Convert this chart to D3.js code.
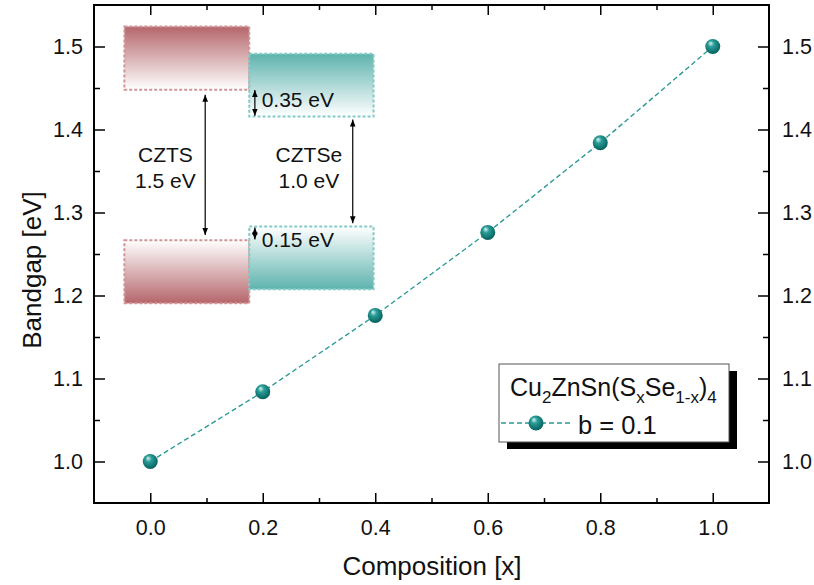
<!DOCTYPE html>
<html><head><meta charset="utf-8">
<script src="https://cdn.jsdelivr.net/npm/d3@7"></script>
<style>
html,body{margin:0;padding:0;background:#fff;}
text{font-family:Arial,"Liberation Sans",sans-serif;fill:#111;}
</style></head>
<body><svg id="c" width="814" height="585"></svg>
<script>
// ---- data ----
const composition = [0.0, 0.2, 0.4, 0.6, 0.8, 1.0];
const bandgap = [1.0, 1.084, 1.176, 1.276, 1.384, 1.5];
const xTicks = [0.0, 0.2, 0.4, 0.6, 0.8, 1.0];
const xMinor = [0.1, 0.3, 0.5, 0.7, 0.9];
const yTicks = [1.0, 1.1, 1.2, 1.3, 1.4, 1.5];
const yMinor = [1.05, 1.15, 1.25, 1.35, 1.45];
const seriesName = "b = 0.1";

const svg = d3.select("#c");
const L = 94, R = 769, T = 5, B = 503;
const x = d3.scaleLinear().domain([-0.1, 1.1]).range([L, R]);
const y = d3.scaleLinear().domain([0.95, 1.55]).range([B, T]);

const defs = svg.append("defs");
const rg = defs.append("radialGradient").attr("id","ball").attr("cx","0.45").attr("cy","0.4").attr("r","0.6").attr("fx","0.35").attr("fy","0.28");
rg.append("stop").attr("offset","0%").attr("stop-color","#d8f4f2");
rg.append("stop").attr("offset","35%").attr("stop-color","#2a9d98");
rg.append("stop").attr("offset","100%").attr("stop-color","#05605d");
function lin(id, c1, c2){
  const g = defs.append("linearGradient").attr("id",id).attr("x1",0).attr("y1",0).attr("x2",0).attr("y2",1);
  g.append("stop").attr("offset","0%").attr("stop-color",c1);
  g.append("stop").attr("offset","100%").attr("stop-color",c2);
}
lin("redDown","#b5666b","#ffffff");
lin("redUp","#ffffff","#b5666b");
lin("tealDown","#5eb3ae","#ffffff");
lin("tealUp","#ffffff","#5eb3ae");
const mk = defs.append("marker").attr("id","ah").attr("viewBox","0 0 10 10").attr("refX",10).attr("refY",5)
  .attr("markerWidth",7).attr("markerHeight",7).attr("orient","auto-start-reverse").attr("markerUnits","userSpaceOnUse");
mk.append("path").attr("d","M0,1 L10,5 L0,9 Z").attr("fill","#000");

// ---- inset band diagram (annotation, in data units) ----
const boxes = [
  {x0:-0.046,x1:0.176,y0:1.524,y1:1.448,fill:"url(#redDown)",stroke:"#cf9597"},
  {x0:-0.046,x1:0.176,y0:1.2667,y1:1.1906,fill:"url(#redUp)",stroke:"#cf9597"},
  {x0:0.176,x1:0.397,y0:1.4912,y1:1.4157,fill:"url(#tealDown)",stroke:"#82cbc7"},
  {x0:0.176,x1:0.397,y0:1.2832,y1:1.2074,fill:"url(#tealUp)",stroke:"#82cbc7"}
];
svg.selectAll("rect.band").data(boxes).enter().append("rect").attr("class","band")
  .attr("x",d=>x(d.x0)).attr("y",d=>y(d.y0)).attr("width",d=>x(d.x1)-x(d.x0)).attr("height",d=>y(d.y1)-y(d.y0))
  .attr("fill",d=>d.fill).attr("stroke",d=>d.stroke).attr("stroke-width",2).attr("stroke-dasharray","3,2");

const arrows = [
  {x:0.0977,y0:1.442,y1:1.273},
  {x:0.360,y0:1.412,y1:1.287},
  {x:0.186,y0:1.4475,y1:1.4165},
  {x:0.186,y0:1.2818,y1:1.2675}
];
svg.selectAll("line.arr").data(arrows).enter().append("line").attr("class","arr")
  .attr("x1",d=>x(d.x)).attr("x2",d=>x(d.x)).attr("y1",d=>y(d.y0)).attr("y2",d=>y(d.y1))
  .attr("stroke","#000").attr("stroke-width",1.2)
  .attr("marker-start","url(#ah)").attr("marker-end","url(#ah)");

const labels = [
  {t:"CZTS",x:0.027,y:1.3608,a:"middle"},
  {t:"1.5 eV",x:0.027,y:1.3292,a:"middle"},
  {t:"CZTSe",x:0.282,y:1.3608,a:"middle"},
  {t:"1.0 eV",x:0.282,y:1.3292,a:"middle"},
  {t:"0.35 eV",x:0.198,y:1.4268,a:"start"},
  {t:"0.15 eV",x:0.198,y:1.258,a:"start"}
];
svg.selectAll("text.lab").data(labels).enter().append("text").attr("class","lab")
  .attr("x",d=>x(d.x)).attr("y",d=>y(d.y)).attr("text-anchor",d=>d.a)
  .style("font-size","21px").text(d=>d.t);

// ---- series ----
const pts = composition.map((c,i)=>({c, g:bandgap[i]}));
svg.append("path").datum(pts)
  .attr("d", d3.line().x(d=>x(d.c)).y(d=>y(d.g)))
  .attr("fill","none").attr("stroke","#2a9a96").attr("stroke-width",1.4).attr("stroke-dasharray","5,3");
svg.selectAll("circle.pt").data(pts).enter().append("circle").attr("class","pt")
  .attr("cx",d=>x(d.c)).attr("cy",d=>y(d.g)).attr("r",7.5).attr("fill","url(#ball)");

// ---- axes ----
function axisG(axis, tx, ty){
  const g = svg.append("g").attr("transform",`translate(${tx},${ty})`).call(axis);
  g.select(".domain").remove();
  g.selectAll("line").attr("stroke","#000").attr("stroke-width",1.5);
  g.selectAll("text").style("font-size","21.5px").attr("fill","#111").style("font-family","Arial,'Liberation Sans',sans-serif");
  return g;
}
const f1 = d3.format(".1f");
// bottom
axisG(d3.axisBottom(x).tickValues(xTicks).tickFormat(f1).tickSizeInner(-10).tickSizeOuter(0).tickPadding(17),0,B);
axisG(d3.axisBottom(x).tickValues(xMinor).tickFormat("").tickSizeInner(-5).tickSizeOuter(0),0,B);
// top
axisG(d3.axisTop(x).tickValues(xTicks).tickFormat("").tickSizeInner(-10).tickSizeOuter(0),0,T);
axisG(d3.axisTop(x).tickValues(xMinor).tickFormat("").tickSizeInner(-5).tickSizeOuter(0),0,T);
// left
axisG(d3.axisLeft(y).tickValues(yTicks).tickFormat(f1).tickSizeInner(-11).tickSizeOuter(0).tickPadding(11),L,0);
axisG(d3.axisLeft(y).tickValues(yMinor).tickFormat("").tickSizeInner(-6).tickSizeOuter(0),L,0);
// right
axisG(d3.axisRight(y).tickValues(yTicks).tickFormat(f1).tickSizeInner(-11).tickSizeOuter(0).tickPadding(13),R,0);
axisG(d3.axisRight(y).tickValues(yMinor).tickFormat("").tickSizeInner(-6).tickSizeOuter(0),R,0);

svg.append("rect").attr("x",L).attr("y",T).attr("width",R-L).attr("height",B-T)
  .attr("fill","none").attr("stroke","#000").attr("stroke-width",2);

svg.append("text").attr("x",432).attr("y",575).attr("text-anchor","middle").style("font-size","26px").text("Composition [x]");
svg.append("text").attr("transform",`translate(41,270) rotate(-90)`).attr("text-anchor","middle").style("font-size","26px").text("Bandgap [eV]");

// ---- legend ----
const lg = svg.append("g");
const lx = 499, ly = 364, lw = 230, lh = 78;
lg.append("rect").attr("x",lx+8).attr("y",ly+7).attr("width",lw).attr("height",lh).attr("fill","#000");
lg.append("rect").attr("x",lx).attr("y",ly).attr("width",lw).attr("height",lh).attr("fill","#fff").attr("stroke","#555").attr("stroke-width",1);
const tt = lg.append("text").attr("x",lx+11).attr("y",ly+32).style("font-size","25px");
const parts = [["Cu",0],["2",1],["ZnSn(S",0],["x",1],["Se",0],["1-x",1],[")",0],["4",1]];
parts.forEach(([s,sub],i)=>{
  const prev = i>0 ? parts[i-1][1] : 0;
  const ts = tt.append("tspan").text(s);
  const dy = (sub?7:0) - (prev?7:0);
  if (dy) ts.attr("dy",dy);
  if (sub) ts.style("font-size","17px");
});
lg.append("line").attr("x1",lx+2).attr("x2",lx+71).attr("y1",ly+59).attr("y2",ly+59)
  .attr("stroke","#2a9a96").attr("stroke-width",1.4).attr("stroke-dasharray","5,3");
lg.append("circle").attr("cx",lx+37).attr("cy",ly+59).attr("r",7.5).attr("fill","url(#ball)");
lg.append("text").attr("x",lx+79).attr("y",ly+70).style("font-size","25.5px").text(seriesName);
</script></body></html>
